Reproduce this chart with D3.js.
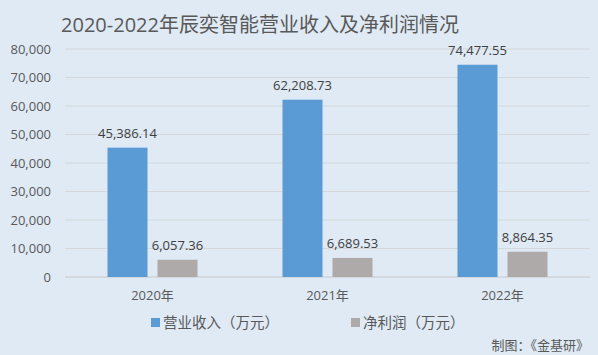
<!DOCTYPE html>
<html>
<head>
<meta charset="utf-8">
<script src="https://cdn.jsdelivr.net/npm/d3@7"></script>
<style>
  body { margin: 0; background: #dfeaf5; }
  text { font-family: "Open Sans", "Noto Sans CJK SC", sans-serif; }
</style>
</head>
<body>
<div id="chart-area"></div>
<script>
// revenue vs net profit, 2020-2022
let years = ["2020年", "2021年", "2022年"];
let revenue = [45386.14, 62208.73, 74477.55];
let profit = [6057.36, 6689.53, 8864.35];
let seriesNames = ["营业收入（万元）", "净利润（万元）"];
let yTicks = [0, 10000, 20000, 30000, 40000, 50000, 60000, 70000, 80000];

let W = 598, H = 355;
let margin = {top: 49, right: 8, bottom: 78, left: 65};
let width = W - margin.left - margin.right,
    height = H - margin.top - margin.bottom;

let colors = ["#5b9bd5", "#aeaaaa"];

let root = d3.select("#chart-area").append("svg")
    .attr("width", W)
    .attr("height", H);

root.append("rect").attr("width", W).attr("height", H).attr("fill", "#dfeaf5");

root.append("text")
    .attr("x", 260).attr("y", 32)
    .attr("text-anchor", "middle")
    .attr("font-size", 20)
    .attr("fill", "#595959")
    .text("2020-2022年辰奕智能营业收入及净利润情况");

let svg = root.append("g")
    .attr("transform", "translate(" + margin.left + "," + margin.top + ")");

let x = d3.scaleBand().domain(years).range([0, width]);
let y = d3.scaleLinear().domain([0, 80000]).range([height, 0]);

// gridlines
svg.selectAll(".grid")
    .data(yTicks)
    .enter().append("line")
    .attr("x1", 0).attr("x2", width)
    .attr("y1", d => y(d)).attr("y2", d => y(d))
    .attr("stroke", d => d === 0 ? "#c8c8c8" : "#d4d8dc")
    .attr("stroke-width", 1);

let yAxis = d3.axisLeft(y).tickValues(yTicks).tickSize(0).tickPadding(14)
    .tickFormat(d3.format(","));
svg.append("g").call(yAxis)
    .call(g => g.select(".domain").remove())
    .selectAll("text").attr("font-size", 13).attr("fill", "#595959");

let xAxis = d3.axisBottom(x).tickSize(0).tickPadding(14);
svg.append("g").attr("transform", "translate(0," + height + ")").call(xAxis)
    .call(g => g.select(".domain").remove())
    .selectAll("text").attr("font-size", 13).attr("fill", "#595959");

let barW = 40, gap = 10;
let series = [revenue, profit];
let fmt = d3.format(",.2f");

series.forEach((vals, i) => {
    let off = i === 0 ? -gap / 2 - barW : gap / 2;
    let g = svg.append("g");
    g.selectAll("rect")
        .data(vals)
        .enter().append("rect")
        .attr("x", (d, j) => x(years[j]) + x.bandwidth() / 2 + off)
        .attr("y", d => y(d))
        .attr("width", barW)
        .attr("height", d => height - y(d))
        .attr("fill", colors[i]);
    g.selectAll("text")
        .data(vals)
        .enter().append("text")
        .attr("x", (d, j) => x(years[j]) + x.bandwidth() / 2 + off + barW / 2)
        .attr("y", d => y(d) - 10)
        .attr("text-anchor", "middle")
        .attr("font-size", 13)
        .attr("fill", "#404040")
        .text(d => fmt(d));
});

// legend
let legX = [151, 351];
seriesNames.forEach((name, i) => {
    root.append("rect")
        .attr("x", legX[i]).attr("y", 318)
        .attr("width", 9).attr("height", 9)
        .attr("fill", colors[i]);
    root.append("text")
        .attr("x", legX[i] + 12).attr("y", 328)
        .attr("font-size", 14.5)
        .attr("fill", "#595959")
        .text(name);
});

root.append("text")
    .attr("x", 589).attr("y", 350)
    .attr("text-anchor", "end")
    .attr("font-size", 13)
    .attr("fill", "#595959")
    .text("制图：《金基研》");
</script>
</body>
</html>
